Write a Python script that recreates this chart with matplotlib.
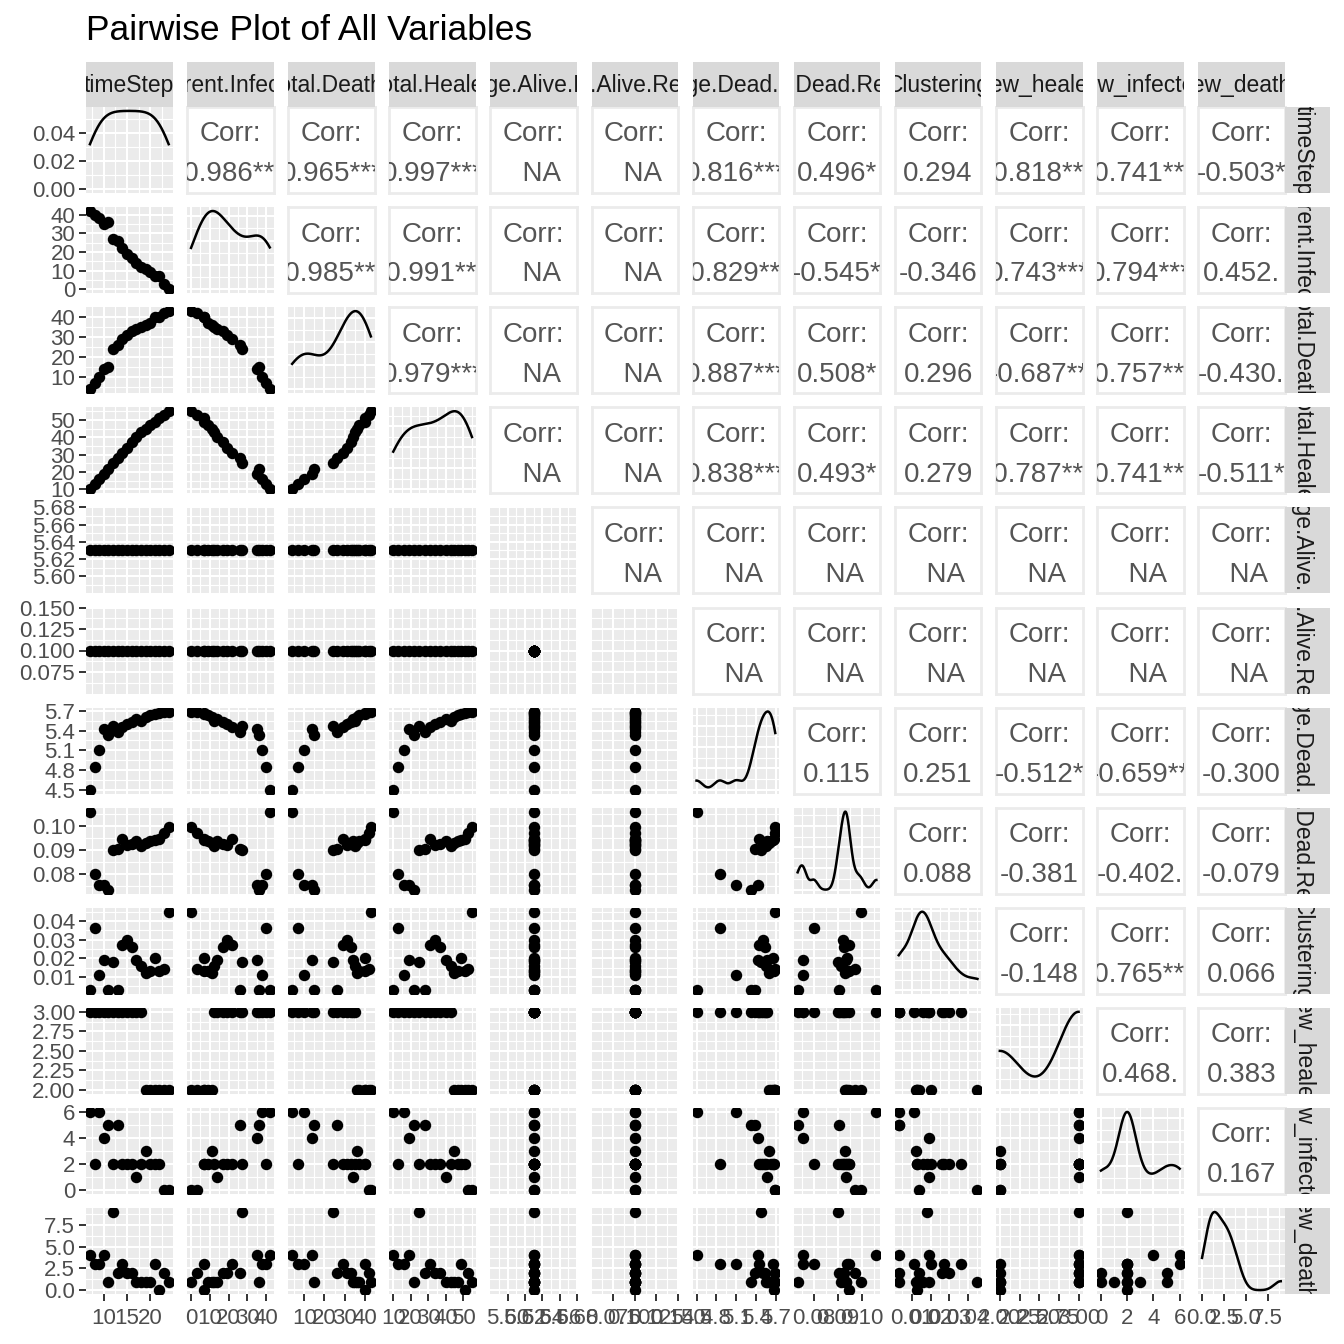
"""
Pairwise plot of all variables (ggpairs style)
"""

import numpy as np
import matplotlib
matplotlib.use("Agg")
import matplotlib.pyplot as plt
from matplotlib.ticker import MaxNLocator

plt.rcParams["font.family"] = ["Liberation Sans", "DejaVu Sans"]

# ---- data, one row per time step ----
time_step = [7, 8, 9, 10, 11, 12, 13, 14, 15, 16, 17, 18, 19, 20, 21, 22, 23, 24]
current_infected = [42, 40, 38, 35, 36, 27, 26, 22, 19, 17, 14, 12, 11, 9, 7, 7, 3, 0]
total_deaths = [4, 7, 10, 14, 15, 24, 26, 29, 31, 33, 34, 35, 36, 37, 40, 40, 42, 43]
total_healed = [10, 13, 16, 19, 22, 25, 28, 31, 34, 37, 40, 43, 45, 47, 49, 51, 53, 55]
avg_alive_health = [5.63] * 18
avg_alive_recovered = [0.1] * 18
avg_dead_health = [4.50, 4.85, 5.10, 5.43, 5.33, 5.47, 5.38, 5.45, 5.50,
                   5.53, 5.57, 5.55, 5.60, 5.63, 5.65, 5.67, 5.68, 5.69]
avg_dead_recovered = [0.106, 0.080, 0.0755, 0.0755, 0.0733, 0.090, 0.0905, 0.0945, 0.092,
                      0.0925, 0.0935, 0.0915, 0.093, 0.0935, 0.094, 0.0945, 0.097, 0.0995]
clustering = [0.003, 0.036, 0.011, 0.019, 0.003, 0.018, 0.003, 0.027, 0.030,
              0.026, 0.019, 0.016, 0.012, 0.013, 0.020, 0.013, 0.014, 0.045]
new_healed = [3, 3, 3, 3, 3, 3, 3, 3, 3, 3, 3, 3, 2, 2, 2, 2, 2, 2]
new_infected = [6, 2, 6, 4, 5, 2, 5, 2, 2, 2, 1, 2, 3, 2, 2, 2, 0, 0]
new_deaths = [4, 3, 3, 4, 1, 9, 2, 3, 2, 2, 1, 1, 1, 1, 3, 0, 2, 1]

var_names = ["timeStep", "Current.Infected", "Total.Deaths", "Total.Healed",
             "Average.Alive.Health", "Average.Alive.Recovered", "Average.Dead.Health",
             "Average.Dead.Recovered", "Clustering", "new_healed", "new_infected",
             "new_deaths"]

var_tick_labels = [
    ["10", "15", "20"],
    ["0", "10", "20", "30", "40"],
    ["10", "20", "30", "40"],
    ["10", "20", "30", "40", "50"],
    ["5.60", "5.62", "5.64", "5.66", "5.68"],
    ["0.075", "0.100", "0.125", "0.150"],
    ["4.5", "4.8", "5.1", "5.4", "5.7"],
    ["0.08", "0.09", "0.10"],
    ["0.01", "0.02", "0.03", "0.04"],
    ["2.00", "2.25", "2.50", "2.75", "3.00"],
    ["0", "2", "4", "6"],
    ["0.0", "2.5", "5.0", "7.5"],
]
density_tick_labels = ["0.00", "0.02", "0.04"]

# upper triangle, row i holds columns i+1 .. 11
corr_labels = [
    ["-0.986***", "0.965***", "0.997***", "  NA", "  NA", "0.816***", "0.496*", "0.294",
     "-0.818***", "-0.741***", "-0.503*"],
    ["-0.985***", "-0.991***", "  NA", "  NA", "-0.829***", "-0.545*", "-0.346",
     "0.743***", "0.794***", "0.452."],
    ["0.979***", "  NA", "  NA", "0.887***", "0.508*", "0.296", "-0.687**", "-0.757***",
     "-0.430."],
    ["  NA", "  NA", "0.838***", "0.493*", "0.279", "-0.787***", "-0.741***", "-0.511*"],
    ["  NA"] * 7,
    ["  NA"] * 6,
    ["0.115", "0.251", "-0.512*", "-0.659**", "-0.300"],
    ["0.088", "-0.381", "-0.402.", "-0.079"],
    ["-0.148", "-0.765***", "0.066"],
    ["0.468.", "0.383"],
    ["0.167"],
]

# ---- layout (pixels of a 1344 x 1344 figure) ----
W = H = 1344
LEFT, TOP = 86, 107
PW, PH = 86.6, 86
XSTEP, YSTEP = 101.1, 100.1
STRIP = 45
BG = "#EBEBEB"
TXT = "#4D4D4D"
TICK_SIZE = 16


def var_limits(values):
    lo, hi = min(values), max(values)
    if hi == lo:
        return lo - 0.05, hi + 0.05
    pad = 0.05 * (hi - lo)
    return lo - pad, hi + pad


def minor_of(ticks, lim):
    step = ticks[1] - ticks[0]
    m = np.arange(ticks[0] - step / 2, ticks[-1] + step, step)
    return m[(m > lim[0]) & (m < lim[1])]


def kde_curve(values):
    x = np.asarray(values, float)
    n = len(x)
    sd = x.std(ddof=1)
    q75, q25 = np.percentile(x, [75, 25])
    lo = min(sd, (q75 - q25) / 1.34)
    if lo == 0:
        lo = sd
    bw = 0.9 * lo * n ** -0.2
    grid = np.linspace(x.min(), x.max(), 512)
    z = (grid[:, None] - x[None, :]) / bw
    dens = np.exp(-0.5 * z ** 2).sum(axis=1) / (n * bw * np.sqrt(2 * np.pi))
    return grid, dens


def panel_axes(fig, i, j):
    left = LEFT + j * XSTEP
    top = TOP + i * YSTEP
    return fig.add_axes([left / W, 1 - (top + PH) / H, PW / W, PH / H])


def grey_panel(ax, xt, xlim, yt, ylim):
    ax.set_facecolor(BG)
    ax.set_xlim(xlim)
    ax.set_ylim(ylim)
    ax.set_xticks(xt)
    ax.set_yticks(yt)
    ax.set_xticks(minor_of(xt, xlim), minor=True)
    ax.set_yticks(minor_of(yt, ylim), minor=True)
    ax.grid(which="major", color="white", lw=1.5)
    ax.grid(which="minor", color="white", lw=0.8)
    ax.set_axisbelow(True)
    for s in ax.spines.values():
        s.set_visible(False)
    ax.tick_params(which="both", length=0, labelleft=False, labelbottom=False)


def corr_panel(ax, label):
    ax.set_facecolor("white")
    ax.set_xticks([])
    ax.set_yticks([])
    for s in ax.spines.values():
        s.set_color(BG)
        s.set_linewidth(2.0)
    ax.text(0.5, 0.60, "Corr:", transform=ax.transAxes, ha="center", va="baseline",
            fontsize=20, color="#555555", clip_on=True)
    ax.text(0.5, 0.135, label, transform=ax.transAxes, ha="center", va="baseline",
            fontsize=20, color="#555555", clip_on=True)


def strip(fig, rect, name, rotation=0):
    ax = fig.add_axes(rect)
    ax.set_facecolor("#D9D9D9")
    ax.set_xticks([])
    ax.set_yticks([])
    for s in ax.spines.values():
        s.set_visible(False)
    if rotation == 0:
        ax.text(0.5, 0.33, name, transform=ax.transAxes, ha="center", va="baseline",
                fontsize=16.5, color="#1A1A1A", clip_on=True)
    else:
        ax.text(0.4, 0.5, name, transform=ax.transAxes, ha="center", va="center",
                rotation=rotation, fontsize=16.5, color="#1A1A1A", clip_on=True)


def pairs_plot(columns):
    fig = plt.figure(figsize=(13.44, 13.44), dpi=100)
    n = len(columns)
    ticks = [[float(t) for t in labels] for labels in var_tick_labels]
    lims = [var_limits(c) for c in columns]

    for i in range(n):
        for j in range(n):
            ax = panel_axes(fig, i, j)
            if j > i:
                corr_panel(ax, corr_labels[i][j - i - 1])
                continue
            if i == j:
                if min(columns[j]) == max(columns[j]):
                    # density cannot be drawn for a constant column
                    grey_panel(ax, ticks[j], lims[j], ticks[j], lims[j])
                else:
                    gx, gy = kde_curve(columns[j])
                    ylim = (-0.05 * gy.max(), 1.05 * gy.max())
                    if i == 0:
                        yt = [float(t) for t in density_tick_labels]
                    else:
                        yt = list(MaxNLocator(4).tick_values(0, gy.max()))
                        yt = [t for t in yt if ylim[0] <= t <= ylim[1]]
                    grey_panel(ax, ticks[j], lims[j], yt, ylim)
                    ax.plot(gx, gy, color="black", lw=1.8)
            else:
                grey_panel(ax, ticks[j], lims[j], ticks[i], lims[i])
                ax.scatter(columns[j], columns[i], s=68, color="black", lw=0, zorder=3)

            if j == 0:
                ax.tick_params(axis="y", which="major", length=4.8, width=1.4,
                               color="#333333", labelleft=True, labelsize=TICK_SIZE,
                               labelcolor=TXT, pad=3.0)
                ax.set_yticklabels(density_tick_labels if i == 0 else var_tick_labels[i])
            if i == n - 1:
                ax.tick_params(axis="x", which="major", length=4.8, width=1.4,
                               color="#333333", labelbottom=True, labelsize=TICK_SIZE,
                               labelcolor=TXT, pad=5.0)
                ax.set_xticklabels(var_tick_labels[j])

    # facet strips
    for k, name in enumerate(var_names):
        left = LEFT + k * XSTEP
        strip(fig, [left / W, 1 - TOP / H, PW / W, STRIP / H], name)
        top = TOP + k * YSTEP
        right = LEFT + (n - 1) * XSTEP + PW
        strip(fig, [right / W, 1 - (top + PH) / H, STRIP / W, PH / H], name, rotation=-90)

    fig.text(LEFT / W, 1 - 40 / H, "Pairwise Plot of All Variables", fontsize=25.5,
             ha="left", va="baseline", color="black")
    return fig


if __name__ == "__main__":
    all_columns = [time_step, current_infected, total_deaths, total_healed,
                   avg_alive_health, avg_alive_recovered, avg_dead_health,
                   avg_dead_recovered, clustering, new_healed, new_infected, new_deaths]
    pairs_plot(all_columns)
    plt.savefig("out.png", dpi=100)
